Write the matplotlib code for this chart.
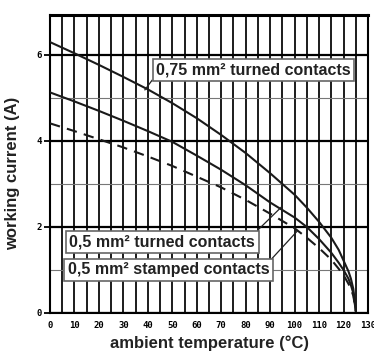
import matplotlib
matplotlib.use("Agg")
import matplotlib.pyplot as plt

# (temperature in degC, current in A)
temp = [0, 10, 20, 30, 40, 50, 60, 70, 80, 90, 100, 105, 110, 115, 118, 120, 122, 123, 124, 125]
turned_075 = [6.30, 6.04, 5.77, 5.49, 5.20, 4.88, 4.53, 4.14, 3.72, 3.25, 2.75, 2.45, 2.12,
              1.75, 1.47, 1.22, 0.97, 0.80, 0.56, 0.05]
turned_05 = [5.13, 4.92, 4.70, 4.47, 4.23, 3.98, 3.66, 3.33, 2.97, 2.57, 2.22, 2.00, 1.72,
             1.40, 1.17, 1.00, 0.80, 0.65, 0.46, 0.05]
stamped_05 = [4.41, 4.23, 4.04, 3.85, 3.64, 3.42, 3.17, 2.92, 2.63, 2.31, 1.97, 1.75, 1.51,
              1.24, 1.03, 0.88, 0.68, 0.56, 0.40, 0.05]

labels = ["0,75 mm² turned contacts", "0,5 mm² turned contacts", "0,5 mm² stamped contacts"]
x_ticks = list(range(0, 131, 10))
y_ticks = [0, 2, 4, 6]

LABEL_FONT = "Liberation Sans"
TICK_FONT = "DejaVu Sans Mono"

fig = plt.figure(figsize=(3.74, 3.52), dpi=100)
ax = fig.add_axes([50 / 374, 1 - 313 / 352, 318 / 374, 298 / 352])

ax.set_xlim(0, 130)
ax.set_ylim(0, 6.93)

# grid: vertical every 5 degC, horizontal every 1 A (even ones heavier)
ax.set_xticks(x_ticks)
ax.set_xticks(range(5, 130, 10), minor=True)
ax.set_yticks(y_ticks)
ax.set_yticks([1, 3, 5], minor=True)
ax.grid(axis="x", which="both", color="black", lw=1.25)
ax.grid(axis="y", which="major", color="black", lw=1.6)
ax.grid(axis="y", which="minor", color="#777777", lw=0.8)
ax.set_axisbelow(True)

for s in ax.spines.values():
    s.set_color("black")
    s.set_linewidth(1.5)
ax.spines["top"].set_linewidth(2.2)

ax.tick_params(axis="x", which="both", length=0, pad=6)
ax.tick_params(axis="y", which="major", length=4, width=1.3, pad=2)
ax.tick_params(axis="y", which="minor", length=0)
for lab in ax.get_xticklabels() + ax.get_yticklabels():
    lab.set_fontfamily(TICK_FONT)
    lab.set_fontweight("bold")
    lab.set_fontsize(6.5)

ax.plot(temp, turned_075, color="#1a1a1a", lw=1.5, zorder=3)
ax.plot(temp, turned_05, color="#1a1a1a", lw=1.5, zorder=3)
ax.plot(temp, stamped_05, color="#1a1a1a", lw=1.5, ls=(0, (5, 3.5)), zorder=3)

box = dict(boxstyle="square,pad=0.22", fc="white", ec="#666666", lw=1.2)
txt_kw = dict(fontsize=11.5, fontweight="bold", family=LABEL_FONT, color="#222222",
              ha="center", va="center", bbox=box, zorder=5)
ax.text(83.2, 5.64, labels[0], **txt_kw)
ax.text(45.9, 1.66, labels[1], **txt_kw)
ax.text(48.4, 1.00, labels[2], **txt_kw)

# leader lines from the boxes to their curves
lead = dict(color="#222222", lw=0.9, zorder=4)
ax.plot([41.7, 38.8], [5.41, 5.19], **lead)
ax.plot([85.0, 94.7], [1.93, 2.47], **lead)
ax.plot([90.8, 101.0], [1.27, 1.90], **lead)

ax.set_xlabel("ambient temperature (°C)", fontsize=12, fontweight="bold",
              family=LABEL_FONT, color="#222222", labelpad=4)
ax.set_ylabel("working current (A)", fontsize=12, fontweight="bold",
              family=LABEL_FONT, color="#222222", labelpad=12)
ax.yaxis.set_label_coords(-0.095, 0.47)

fig.savefig("out.png", dpi=100)
